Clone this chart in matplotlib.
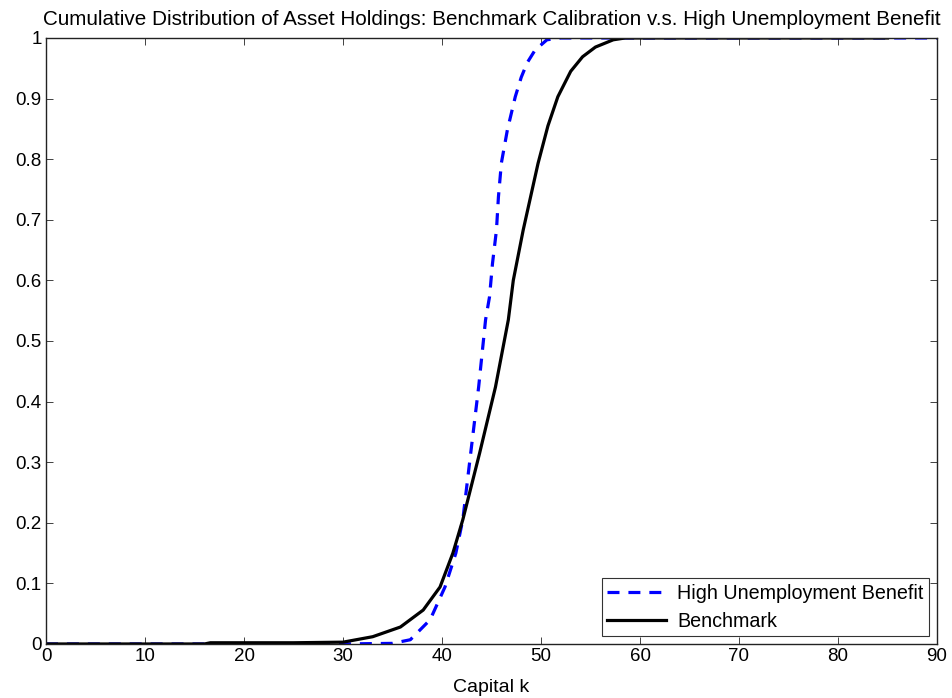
import numpy as np
import matplotlib
matplotlib.use("Agg")
import matplotlib.pyplot as plt

# benchmark calibration
bench_k = [0, 16.0, 16.6, 25, 30, 33.0, 35.8, 38.1, 39.8, 41.1, 42.1, 43.8, 45.4,
           46.7, 47.2, 48.2, 49.7, 50.7, 51.7, 53.0, 54.2, 55.5, 57.3, 58.5, 85]
bench_cdf = [0, 0, 0.002, 0.002, 0.003, 0.012, 0.028, 0.056, 0.094, 0.15, 0.205, 0.315, 0.424,
             0.535, 0.6, 0.683, 0.793, 0.855, 0.903, 0.945, 0.969, 0.985, 0.997, 1.0, 1.0]

# high unemployment benefit
high_k = [0, 30, 35, 36.8, 38.8, 40.3, 41.4, 42.1, 42.9, 43.7, 44.4, 44.8, 45.1,
          45.5, 45.7, 46.0, 46.6, 47.4, 48.0, 48.6, 49.4, 50.6, 52, 90]
high_cdf = [0, 0, 0.001, 0.007, 0.04, 0.094, 0.15, 0.205, 0.315, 0.424, 0.535, 0.573, 0.628,
            0.683, 0.738, 0.794, 0.848, 0.903, 0.935, 0.959, 0.98, 0.997, 1.0, 1.0]

x_ticks = np.arange(0, 91, 10)
y_ticks = np.round(np.arange(0, 1.01, 0.1), 1)
y_labels = ['0'] + ['%.1f' % v for v in y_ticks[1:-1]] + ['1']

plt.rcParams['font.family'] = ['Liberation Sans', 'DejaVu Sans']

fig = plt.figure(figsize=(9.53, 6.98), dpi=100)
ax = fig.add_axes([0.0483, 0.0774, 0.9349, 0.8682])

ax.plot(high_k, high_cdf, color='#0000ff', linestyle=(0, (3.75, 2.8)), linewidth=2.3,
        label='High Unemployment Benefit')
ax.plot(bench_k, bench_cdf, color='black', linewidth=2.3, label='Benchmark')

ax.set_xlim(0, 90)
ax.set_ylim(0, 1)
ax.set_xticks(x_ticks)
ax.set_yticks(y_ticks)
ax.set_yticklabels(y_labels)
ax.tick_params(direction='in', length=5, width=0.6, top=True, right=True,
               labelsize=13.5, colors='#222222', labelcolor='black', pad=3)
for s in ax.spines.values():
    s.set_linewidth(1.0)
    s.set_color('#222222')

ax.set_xlabel('Capital k', fontsize=14, labelpad=10)
ax.set_title('Cumulative Distribution of Asset Holdings: Benchmark Calibration v.s. High Unemployment Benefit',
             fontsize=14.9, pad=9)

leg = ax.legend(loc='lower right', fontsize=14.2, frameon=True, fancybox=False,
                edgecolor='black', handlelength=3.0, handletextpad=0.55,
                borderaxespad=0.4, borderpad=0.28, labelspacing=0.45)
leg.get_frame().set_linewidth(0.8)

fig.savefig('out.png', dpi=100)
